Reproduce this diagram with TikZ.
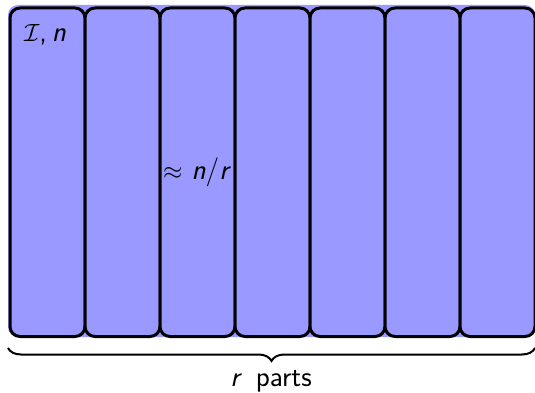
\documentclass[tikz,border=0pt]{standalone}
\usetikzlibrary{decorations.pathreplacing}
\newcommand{\sfi}[1]{\textsf{\itshape #1}}
\begin{document}
\begin{tikzpicture}[x=1pt,y=-1pt,
  colbox/.style={draw=black,line width=3pt,fill=blue!40,rounded corners=10pt},
  lbl/.style={font=\fontsize{29}{34}\selectfont\sffamily,inner sep=0pt}]
\useasboundingbox (0,0) rectangle (535,393);
\fill[blue!40,rounded corners=10pt] (8,5) rectangle (535,337);
\foreach \i in {0,...,6}{
  \node[colbox,minimum width=75pt,minimum height=328.5pt,anchor=north west,inner sep=0pt] (c\i) at ({8.5+75*\i},6.5) {};
}
\node[lbl] (t1) at (45,35) {$\mathcal{I}$,\,\sfi{n}};
\node[lbl] (t2) at (197,172) {$\approx$ \sfi{n}/\sfi{r}};
\coordinate (bl) at (8,348);
\coordinate (br) at (535,348);
\draw[line width=2pt,decorate,decoration={brace,mirror,amplitude=13pt}] (bl) -- (br);
\node[lbl] (t3) at (271,381) {\sfi{r}\,\ parts};
\end{tikzpicture}
\end{document}
